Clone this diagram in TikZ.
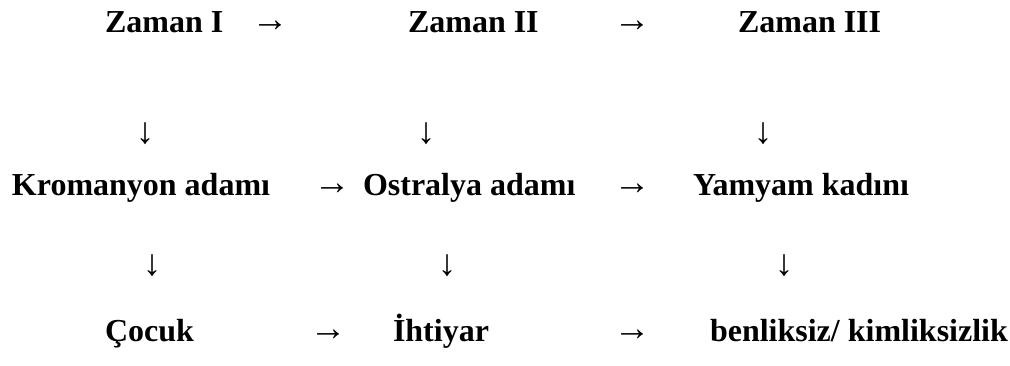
\documentclass[tikz,border=0pt]{standalone}
\usepackage{fontspec}
\setmainfont{Liberation Serif}
\begin{document}
\begin{tikzpicture}[x=1pt,y=-1pt,
  every node/.style={inner sep=0pt,outer sep=0pt},
  term/.style={anchor=base west,font=\fontsize{32}{38}\selectfont\bfseries},
  harrow/.style={anchor=center,font=\fontsize{37}{44}\selectfont},
  varrow/.style={anchor=center,font=\fontsize{37}{44}\selectfont}]
\useasboundingbox (0,0) rectangle (1010,365);

% first row: the three times
\node[term] (z1) at (105,32) {Zaman I};
\node[harrow] (a11) at (270,26) {→};
\node[term] (z2) at (408,32) {Zaman II};
\node[harrow] (a12) at (632,26) {→};
\node[term] (z3) at (738,32) {Zaman III};

% downward arrows
\node[varrow] (d11) at (145,134) {↓};
\node[varrow] (d12) at (426,134) {↓};
\node[varrow] (d13) at (763,134) {↓};

% second row
\node[term] (m1) at (12,195) {Kromanyon adamı};
\node[harrow] (a21) at (332,189) {→};
\node[term] (m2) at (363,195) {Ostralya adamı};
\node[harrow] (a22) at (632,189) {→};
\node[term] (m3) at (693,195) {Yamyam kadını};

% downward arrows
\node[varrow] (d21) at (152,266) {↓};
\node[varrow] (d22) at (447,266) {↓};
\node[varrow] (d23) at (784,266) {↓};

% third row
\node[term] (b1) at (105,341) {Çocuk};
\node[harrow] (a31) at (328,335) {→};
\node[term] (b2) at (393,341) {İhtiyar};
\node[harrow] (a32) at (632,335) {→};
\node[term] (b3) at (710,341) {benliksiz/ kimliksizlik};
\end{tikzpicture}
\end{document}
